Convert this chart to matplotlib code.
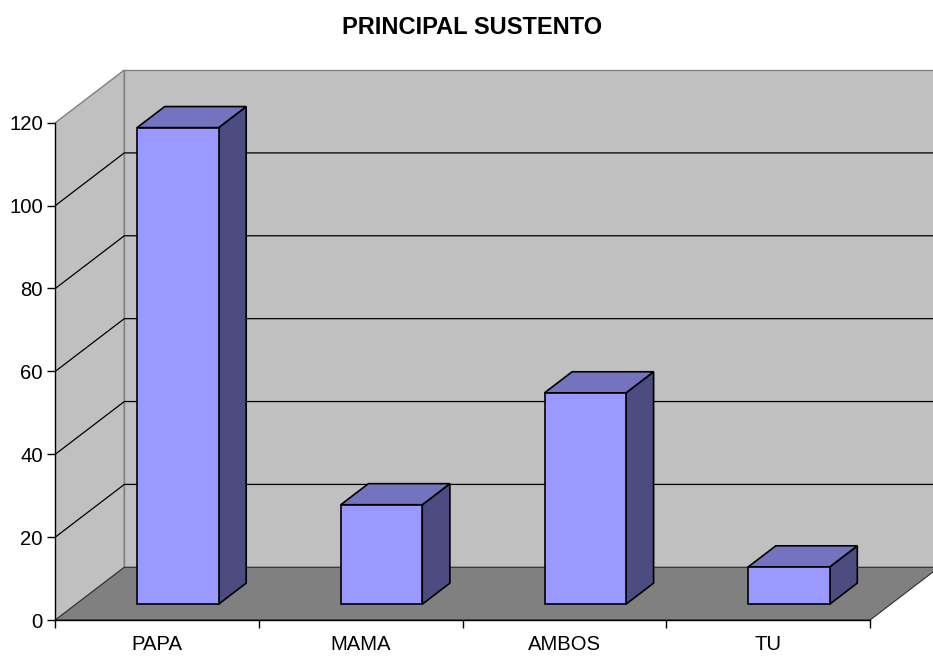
import numpy as np
import matplotlib.pyplot as plt
from matplotlib.patches import Polygon

plt.rcParams['font.family'] = ['Liberation Sans', 'DejaVu Sans']

# data
categories = ['PAPA', 'MAMA', 'AMBOS', 'TU']
values = [115, 24, 51, 9]
yticks = [0, 20, 40, 60, 80, 100, 120]

# layout (pixels at dpi 100)
W, H = 933, 656
x0_px, y0_px = 55.3, 620.0      # front origin
px_cat = 203.7                  # pixels per category
px_val = 4.144                  # pixels per value unit
dx = 69.0 / px_cat              # depth offset in category units
dy = 52.7 / px_val              # depth offset in value units
ymin, ymax = -5, 135
xmax = (W - x0_px) / px_cat
ncat = len(categories)
vmax = yticks[-1]

fig = plt.figure(figsize=(W / 100, H / 100), dpi=100)
ax = fig.add_axes([x0_px / W, (H - y0_px + ymin * px_val) / H,
                   (W - x0_px) / W, (ymax - ymin) * px_val / H])
ax.set_xlim(0, xmax)
ax.set_ylim(ymin, ymax)
ax.patch.set_visible(False)

wall = '#c0c0c0'
floor = '#808080'
edge = '#808080'

# walls and floor
ax.add_patch(Polygon([(0, 0), (dx, dy), (dx, vmax + dy), (0, vmax)],
                     closed=True, fc=wall, ec=edge, lw=1, zorder=1))
ax.add_patch(Polygon([(dx, dy), (ncat + dx, dy), (ncat + dx, vmax + dy), (dx, vmax + dy)],
                     closed=True, fc=wall, ec=edge, lw=1, zorder=1))
ax.add_patch(Polygon([(0, 0), (ncat, 0), (ncat + dx, dy), (dx, dy)],
                     closed=True, fc=floor, ec='#303030', lw=0.8, zorder=2))

# gridlines
for v in yticks[1:-1]:
    ax.plot([0, dx, ncat + dx], [v, v + dy, v + dy], color='black', lw=0.9, zorder=3)

# bars
w = 0.4
z0, z1 = 0.3, 0.7
front_c, top_c, side_c = '#9999ff', '#7373bf', '#4c4c80'
for i, v in enumerate(values):
    xa = i + 0.5 - w / 2
    xb = i + 0.5 + w / 2
    f = [(xa + z0 * dx, z0 * dy), (xb + z0 * dx, z0 * dy),
         (xb + z0 * dx, v + z0 * dy), (xa + z0 * dx, v + z0 * dy)]
    t = [(xa + z0 * dx, v + z0 * dy), (xb + z0 * dx, v + z0 * dy),
         (xb + z1 * dx, v + z1 * dy), (xa + z1 * dx, v + z1 * dy)]
    s = [(xb + z0 * dx, z0 * dy), (xb + z1 * dx, z1 * dy),
         (xb + z1 * dx, v + z1 * dy), (xb + z0 * dx, v + z0 * dy)]
    for pts, c in [(s, side_c), (t, top_c), (f, front_c)]:
        ax.add_patch(Polygon(pts, closed=True, fc=c, ec='black', lw=1.2,
                             joinstyle='miter', zorder=5))

# axes
for sp in ['top', 'right']:
    ax.spines[sp].set_visible(False)
ax.spines['left'].set_position(('data', 0))
ax.spines['left'].set_bounds(0, vmax)
ax.spines['bottom'].set_position(('data', 0))
ax.spines['bottom'].set_bounds(0, ncat)
for sp in ['left', 'bottom']:
    ax.spines[sp].set_linewidth(1.0)
    ax.spines[sp].set_zorder(4)

ax.set_yticks(yticks)
ax.tick_params(axis='y', direction='out', length=5.5, width=1, pad=3.4, labelsize=14.6)
ax.set_xticks(np.arange(ncat + 1))
ax.set_xticklabels([])
ax.set_xticks(np.arange(ncat) + 0.5, minor=True)
ax.set_xticklabels(categories, minor=True)
ax.tick_params(axis='x', which='major', direction='out', length=5.5, width=1)
ax.tick_params(axis='x', which='minor', length=0, pad=10.5, labelsize=14.6)

fig.text(472.4 / W, 1 - 28 / H, 'PRINCIPAL SUSTENTO', ha='center', va='center',
         fontsize=17, fontweight='bold')

fig.savefig('out.png', dpi=100)
